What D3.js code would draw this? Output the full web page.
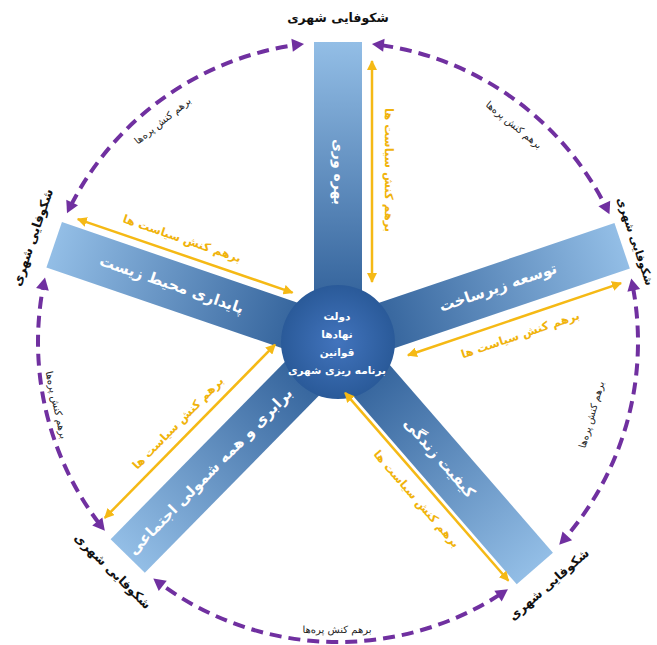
<!DOCTYPE html>
<html>
<head>
<meta charset="utf-8">
<script src="https://cdn.jsdelivr.net/npm/d3@7"></script>
<style>
  html, body { margin: 0; padding: 0; background: #fff; }
  #root { width: 657px; height: 645px; }
  text { font-family: "DejaVu Sans", sans-serif; }
</style>
</head>
<body>
<div id="root"></div>
<script>
// chart content
const spokeLabels = ["بهره وری", "توسعه زیرساخت", "کیفیت زندگی", "برابری و همه شمولی اجتماعی", "پایداری محیط زیست"];
const spokeAngles = [-90, -18.7, 49, 134.5, 198.9]; // degrees, screen orientation
const centerLines = ["دولت", "نهادها", "قوانین", "برنامه ریزی شهری"];
const outerLabel = "شکوفایی شهری";
const policyLabel = "برهم کنش سیاست ها";
const spokeLinkLabel = "برهم کنش پره‌ها";

// layout
const width = 657, height = 645;
const cx = 338, cy = 342;
const spokeLen = 300, spokeW = 48, hubR = 57;
const ringR = 300;
// yellow arrows beside each spoke: offset, start, end, text offset, text position
const policyLayout = [
  { off: 34, d1: 60, d2: 281, toff: 50, td: 172 },
  { off: 35, d1: 62, d2: 287, toff: 52, td: 175 },
  { off: 28, d1: 43, d2: 292, toff: 44, td: 170 },
  { off: 43, d1: 46, d2: 289, toff: 57, td: 170 },
  { off: 32, d1: 59, d2: 286, toff: 47, td: 181 }
];
const labelDist = [170, 169, 154, 182, 176];
const outerDist = [324, 313, 322, 322, 322];
const outerSize = [12.5, 11.3, 12.5, 12.5, 12.5];
// where each "between spokes" note sits: angle, radius
const linkPos = [
  { a: -51, r: 279 }, { a: 16, r: 264 }, { a: 90.2, r: 288 }, { a: 167.4, r: 289 }, { a: 231.6, r: 282 }
];

const rad = d3.scaleLinear().domain([0, 180]).range([0, Math.PI]);
const upright = (a) => { while (a > 90) a -= 180; while (a <= -90) a += 180; return a; };
const polar = (a, r) => [cx + r * Math.cos(rad(a)), cy + r * Math.sin(rad(a))];
const along = (a, d, o) => {
  const t = rad(a);
  return [cx + d * Math.cos(t) - o * Math.sin(t), cy + d * Math.sin(t) + o * Math.cos(t)];
};

const svg = d3.create("svg").attr("width", width).attr("height", height).attr("viewBox", [0, 0, width, height]);
const defs = svg.append("defs");

const grad = defs.append("linearGradient").attr("id", "spokeGrad")
  .attr("x1", 0).attr("x2", 1).attr("y1", 0).attr("y2", 0);
grad.append("stop").attr("offset", "0%").attr("stop-color", "#24548f");
grad.append("stop").attr("offset", "100%").attr("stop-color", "#93bee6");

const hubGrad = defs.append("radialGradient").attr("id", "hubGrad");
hubGrad.append("stop").attr("offset", "0%").attr("stop-color", "#4274bd");
hubGrad.append("stop").attr("offset", "100%").attr("stop-color", "#2a5a99");

defs.append("marker").attr("id", "ya").attr("viewBox", "0 0 10 10")
  .attr("refX", 9).attr("refY", 5).attr("markerWidth", 4).attr("markerHeight", 4)
  .attr("orient", "auto-start-reverse")
  .append("path").attr("d", "M0,0L10,5L0,10Z").attr("fill", "#f5b915");

// spokes
svg.append("g").selectAll("rect")
  .data(spokeAngles)
  .join("rect")
  .attr("transform", (a) => `translate(${cx},${cy}) rotate(${a})`)
  .attr("x", 0).attr("y", -spokeW / 2)
  .attr("width", spokeLen).attr("height", spokeW)
  .attr("fill", "url(#spokeGrad)");

// hub
svg.append("circle").attr("cx", cx).attr("cy", cy).attr("r", hubR).attr("fill", "url(#hubGrad)");

svg.append("g").selectAll("text")
  .data(centerLines)
  .join("text")
  .attr("x", cx - 1)
  .attr("y", (d, i) => cy - 25 + i * 18)
  .attr("text-anchor", "middle")
  .attr("dominant-baseline", "middle")
  .attr("fill", "#fff")
  .attr("font-size", 10.5)
  .attr("font-weight", "bold")
  .text((d) => d);

// spoke labels
svg.append("g").selectAll("text")
  .data(spokeLabels)
  .join("text")
  .attr("transform", (d, i) => {
    const [x, y] = polar(spokeAngles[i], labelDist[i]);
    return `translate(${x},${y}) rotate(${upright(spokeAngles[i])})`;
  })
  .attr("text-anchor", "middle")
  .attr("dominant-baseline", "middle")
  .attr("fill", "#fff")
  .attr("font-size", (d, i) => (i === 0 ? 14 : 15))
  .attr("font-weight", "bold")
  .text((d) => d);

// yellow policy arrows
svg.append("g").selectAll("line")
  .data(spokeAngles)
  .join("line")
  .each(function (a, i) {
    const p = policyLayout[i];
    const [x1, y1] = along(a, p.d1, p.off);
    const [x2, y2] = along(a, p.d2, p.off);
    d3.select(this).attr("x1", x1).attr("y1", y1).attr("x2", x2).attr("y2", y2);
  })
  .attr("stroke", "#f5b915")
  .attr("stroke-width", 2.5)
  .attr("marker-start", "url(#ya)")
  .attr("marker-end", "url(#ya)");

svg.append("g").selectAll("text")
  .data(spokeAngles)
  .join("text")
  .attr("transform", (a, i) => {
    const p = policyLayout[i];
    const [x, y] = along(a, p.td, p.toff);
    return `translate(${x},${y}) rotate(${upright(a)})`;
  })
  .attr("text-anchor", "middle")
  .attr("dominant-baseline", "middle")
  .attr("fill", "#f0b30c")
  .attr("font-size", 11.5)
  .attr("font-weight", "bold")
  .text(policyLabel);

// purple dashed ring between spokes
const purple = "#7030a0";
const tipGap = 6.5, headLen = 12, headW = 6.5;
const headGap = tipGap + (headLen / ringR) * 180 / Math.PI;
const segs = spokeAngles.map((a, i) => ({ a0: a, a1: i < spokeAngles.length - 1 ? spokeAngles[i + 1] : spokeAngles[0] + 360 }));

const ring = svg.append("g");
ring.selectAll("path.arc")
  .data(segs)
  .join("path")
  .attr("class", "arc")
  .attr("d", (s) => {
    const p = d3.path();
    p.arc(cx, cy, ringR, rad(s.a0 + headGap - 0.5), rad(s.a1 - headGap + 0.5));
    return p.toString();
  })
  .attr("fill", "none")
  .attr("stroke", purple)
  .attr("stroke-width", 4)
  .attr("stroke-dasharray", "12 7");

const heads = [];
segs.forEach((s) => {
  heads.push({ a: s.a0 + tipGap, dir: -1 });
  heads.push({ a: s.a1 - tipGap, dir: 1 });
});
ring.selectAll("path.head")
  .data(heads)
  .join("path")
  .attr("class", "head")
  .attr("d", (h) => {
    const t = rad(h.a);
    const [tx, ty] = polar(h.a, ringR);
    const ux = -Math.sin(t) * h.dir, uy = Math.cos(t) * h.dir; // travel direction
    const nx = Math.cos(t), ny = Math.sin(t);
    const bx = tx - ux * headLen, by = ty - uy * headLen;
    return `M${tx},${ty}L${bx + nx * headW},${by + ny * headW}L${bx - nx * headW},${by - ny * headW}Z`;
  })
  .attr("fill", purple);

// outer labels
svg.append("g").selectAll("text")
  .data(spokeAngles)
  .join("text")
  .attr("transform", (a, i) => {
    const [x, y] = polar(a, outerDist[i]);
    return `translate(${x},${y}) rotate(${upright(a + 90)})`;
  })
  .attr("text-anchor", "middle")
  .attr("dominant-baseline", "middle")
  .attr("fill", "#111")
  .attr("font-size", (a, i) => outerSize[i])
  .attr("font-weight", "bold")
  .text(outerLabel);

// interaction labels between spokes
svg.append("g").selectAll("text")
  .data(linkPos)
  .join("text")
  .attr("transform", (p) => {
    const [x, y] = polar(p.a, p.r);
    return `translate(${x},${y}) rotate(${upright(p.a + 90)})`;
  })
  .attr("text-anchor", "middle")
  .attr("dominant-baseline", "middle")
  .attr("fill", "#222")
  .attr("font-size", 10)
  .text(spokeLinkLabel);

d3.select("#root").append(() => svg.node());
</script>
</body>
</html>
